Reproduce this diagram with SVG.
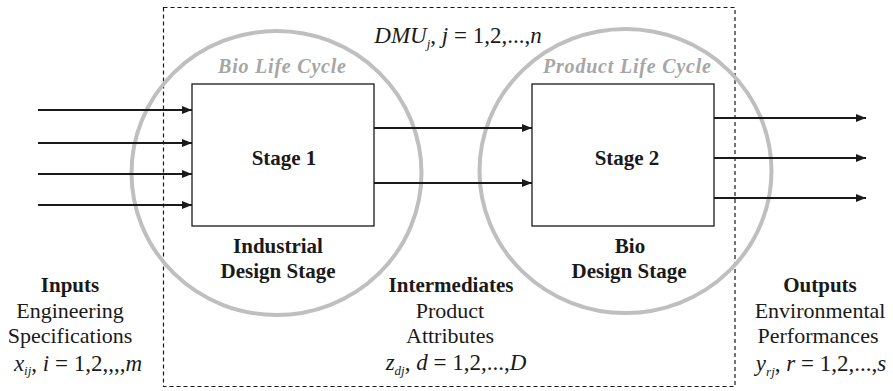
<svg xmlns="http://www.w3.org/2000/svg" width="893" height="391" viewBox="0 0 893 391">
<style>
text{fill:#1a1a1a;text-anchor:middle}
.b{font-weight:bold;font-size:21px}
.r{font-size:22px}
.m{font-size:23px;font-style:italic}
.up{font-style:normal}
.sub{font-size:13px}
.cy{font-weight:bold;font-style:italic;font-size:20px;fill:#a6a6a6}
.ring{fill:none;stroke:#bfbfbf;stroke-width:4}
.box{fill:#fff;stroke:#1a1a1a;stroke-width:1.3}
.con line{stroke:#1a1a1a;stroke-width:2;marker-end:url(#ah)}
</style>
<defs>
<marker id="ah" markerWidth="10" markerHeight="8" refX="10" refY="4" orient="auto" markerUnits="userSpaceOnUse">
<path d="M0,0 L10,4 L0,8 Z" fill="#1a1a1a"/>
</marker>
</defs>
<rect x="0" y="0" width="893" height="391" fill="#fff"/>
<g font-family="Liberation Serif, Times New Roman, serif">
<g id="dmu">
<rect x="163.5" y="7.5" width="571.5" height="379" fill="none" stroke="#1a1a1a" stroke-width="1.2" stroke-dasharray="4,3"/>
<text class="m" x="458" y="43"><tspan>DMU</tspan><tspan class="sub" dy="5">j</tspan><tspan class="up" dy="-5">, </tspan><tspan>j</tspan><tspan class="up"> = 1,2,...,</tspan><tspan>n</tspan></text>
</g>
<g id="bio-cycle">
<ellipse class="ring" cx="276.5" cy="173" rx="145" ry="142"/>
<text class="cy" x="282" y="73" textLength="128" lengthAdjust="spacing">Bio Life Cycle</text>
</g>
<g id="product-cycle">
<ellipse class="ring" cx="625.5" cy="171" rx="146" ry="142"/>
<text class="cy" x="627" y="73" textLength="168" lengthAdjust="spacing">Product Life Cycle</text>
</g>
<g id="connectors" class="con">
<line x1="38" y1="110" x2="192" y2="110"/>
<line x1="38" y1="143" x2="192" y2="143"/>
<line x1="38" y1="174" x2="192" y2="174"/>
<line x1="38" y1="205" x2="192" y2="205"/>
<line x1="374" y1="128" x2="532" y2="128"/>
<line x1="374" y1="183" x2="532" y2="183"/>
<line x1="714" y1="118" x2="866" y2="118"/>
<line x1="714" y1="158" x2="866" y2="158"/>
<line x1="714" y1="198" x2="866" y2="198"/>
</g>
<g id="stage1">
<rect class="box" x="192" y="84" width="182" height="142"/>
<text class="b" x="284" y="165">Stage 1</text>
<text class="b" x="278" y="253">Industrial</text>
<text class="b" x="278" y="278">Design Stage</text>
</g>
<g id="stage2">
<rect class="box" x="532" y="84" width="182" height="142"/>
<text class="b" x="627" y="165">Stage 2</text>
<text class="b" x="630" y="253">Bio</text>
<text class="b" x="629" y="278">Design Stage</text>
</g>
<g id="inputs">
<text class="b" x="70" y="292">Inputs</text>
<text class="r" x="70" y="318">Engineering</text>
<text class="r" x="70" y="343">Specifications</text>
<text class="m" x="78" y="371"><tspan>x</tspan><tspan class="sub" dy="4">ij</tspan><tspan class="up" dy="-4">, </tspan><tspan>i</tspan><tspan class="up"> = 1,2,,,,</tspan><tspan>m</tspan></text>
</g>
<g id="intermediates">
<text class="b" x="451" y="292">Intermediates</text>
<text class="r" x="450" y="318">Product</text>
<text class="r" x="450" y="343">Attributes</text>
<text class="m" x="456" y="370"><tspan>z</tspan><tspan class="sub" dy="5">dj</tspan><tspan class="up" dy="-5">, </tspan><tspan>d</tspan><tspan class="up"> = 1,2,...,</tspan><tspan>D</tspan></text>
</g>
<g id="outputs">
<text class="b" x="820" y="292">Outputs</text>
<text class="r" x="820" y="318">Environmental</text>
<text class="r" x="818" y="343">Performances</text>
<text class="m" x="821" y="371"><tspan>y</tspan><tspan class="sub" dy="5">rj</tspan><tspan class="up" dy="-5">, </tspan><tspan>r</tspan><tspan class="up"> = 1,2,...,</tspan><tspan>s</tspan></text>
</g>
</g>
</svg>
